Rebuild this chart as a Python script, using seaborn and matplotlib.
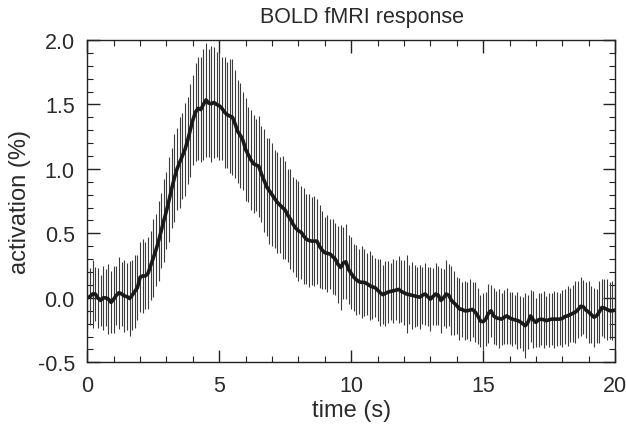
import numpy as np
import pandas as pd
import matplotlib
matplotlib.use("Agg")
import matplotlib.pyplot as plt
import seaborn as sns
from matplotlib.ticker import MultipleLocator

# time axis: one sample every 0.1 s, 0 .. 20 s
time_s = np.round(np.arange(0, 201) * 0.1, 1)

# mean activation (%)
activation = [
    0.00, 0.01, 0.03, 0.03, 0.00, -0.02, 0.00, 0.00, -0.01, -0.035,
    -0.01, 0.02, 0.04, 0.03, 0.015, 0.01, -0.005, 0.02, 0.05, 0.08,
    0.16, 0.17, 0.17, 0.19, 0.25, 0.31, 0.37, 0.44, 0.52, 0.60,
    0.675, 0.76, 0.85, 0.93, 1.00, 1.05, 1.10, 1.15, 1.22, 1.30,
    1.38, 1.44, 1.47, 1.46, 1.50, 1.535, 1.51, 1.505, 1.515, 1.50,
    1.49, 1.47, 1.44, 1.42, 1.41, 1.40, 1.35, 1.29, 1.26, 1.22,
    1.15, 1.11, 1.07, 1.04, 1.03, 1.02, 0.96, 0.91, 0.86, 0.83,
    0.80, 0.77, 0.74, 0.72, 0.70, 0.68, 0.64, 0.61, 0.57, 0.54,
    0.52, 0.51, 0.48, 0.455, 0.445, 0.44, 0.44, 0.44, 0.40, 0.37,
    0.35, 0.345, 0.34, 0.32, 0.30, 0.26, 0.236, 0.27, 0.28, 0.22,
    0.19, 0.16, 0.14, 0.125, 0.12, 0.12, 0.11, 0.095, 0.085, 0.08,
    0.06, 0.04, 0.025, 0.035, 0.045, 0.05, 0.055, 0.06, 0.065, 0.05,
    0.04, 0.03, 0.025, 0.02, 0.015, 0.01, 0.005, 0.02, 0.03, 0.01,
    -0.01, 0.01, 0.03, 0.02, -0.02, 0.00, 0.03, 0.02, -0.02, -0.04,
    -0.06, -0.085, -0.09, -0.10, -0.10, -0.095, -0.09, -0.11, -0.14, -0.18,
    -0.185, -0.165, -0.12, -0.10, -0.14, -0.155, -0.16, -0.165, -0.15, -0.14,
    -0.155, -0.165, -0.17, -0.175, -0.185, -0.20, -0.216, -0.19, -0.14, -0.17,
    -0.19, -0.17, -0.165, -0.17, -0.177, -0.17, -0.165, -0.165, -0.165, -0.165,
    -0.16, -0.145, -0.14, -0.13, -0.12, -0.11, -0.09, -0.065, -0.07, -0.095,
    -0.11, -0.13, -0.15, -0.14, -0.11, -0.075, -0.08, -0.09, -0.10, -0.10,
    -0.095,
]

# half-length of each error bar
error = [
    0.24, 0.22, 0.26, 0.21, 0.23, 0.20, 0.25, 0.22, 0.27, 0.24,
    0.26, 0.23, 0.28, 0.25, 0.28, 0.26, 0.29, 0.27, 0.28, 0.25,
    0.27, 0.29, 0.26, 0.28, 0.27, 0.30, 0.28, 0.31, 0.29, 0.32,
    0.30, 0.33, 0.31, 0.34, 0.32, 0.35, 0.33, 0.36, 0.34, 0.36,
    0.35, 0.38, 0.40, 0.41, 0.43, 0.44, 0.42, 0.45, 0.43, 0.41,
    0.42, 0.40, 0.43, 0.41, 0.44, 0.45, 0.42, 0.40, 0.41, 0.38,
    0.40, 0.37, 0.39, 0.38, 0.36, 0.39, 0.37, 0.40, 0.38, 0.41,
    0.40, 0.38, 0.39, 0.37, 0.40, 0.38, 0.36, 0.39, 0.37, 0.38,
    0.39, 0.36, 0.37, 0.35, 0.36, 0.34, 0.35, 0.33, 0.32, 0.30,
    0.28, 0.30, 0.27, 0.29, 0.28, 0.30, 0.33, 0.28, 0.29, 0.27,
    0.28, 0.26, 0.27, 0.25, 0.28, 0.26, 0.24, 0.27, 0.25, 0.23,
    0.24, 0.26, 0.23, 0.25, 0.24, 0.22, 0.25, 0.23, 0.26, 0.24,
    0.25, 0.30, 0.23, 0.26, 0.24, 0.23, 0.25, 0.22, 0.24, 0.23,
    0.25, 0.22, 0.24, 0.23, 0.25, 0.22, 0.26, 0.24, 0.27, 0.25,
    0.22, 0.24, 0.21, 0.23, 0.22, 0.24, 0.21, 0.23, 0.22, 0.20,
    0.22, 0.21, 0.23, 0.20, 0.22, 0.21, 0.23, 0.20, 0.21, 0.22,
    0.20, 0.21, 0.19, 0.22, 0.20, 0.21, 0.25, 0.21, 0.20, 0.22,
    0.19, 0.21, 0.20, 0.22, 0.19, 0.21, 0.20, 0.22, 0.21, 0.20,
    0.22, 0.21, 0.23, 0.21, 0.22, 0.24, 0.22, 0.23, 0.21, 0.22,
    0.24, 0.22, 0.23, 0.21, 0.24, 0.22, 0.23, 0.24, 0.22, 0.23,
    0.22,
]

df = pd.DataFrame({"time": time_s, "activation": activation, "err": error})

sns.set_style("ticks")
plt.rcParams["font.family"] = ["Liberation Sans", "DejaVu Sans"]

fig = plt.figure(figsize=(6.26, 4.31), dpi=100)
ax = fig.add_axes([0.1395, 0.157, 0.843, 0.748])

ax.errorbar(df["time"], df["activation"], yerr=df["err"], fmt="none",
            ecolor="#3a3a3a", elinewidth=0.8, capsize=0)
sns.lineplot(data=df, x="time", y="activation", ax=ax, color="#1a1a1a",
             linewidth=2.6, errorbar=None)

ax.set_xlim(0, 20)
ax.set_ylim(-0.5, 2.0)
ax.xaxis.set_minor_locator(MultipleLocator(1))
ax.yaxis.set_minor_locator(MultipleLocator(0.1))
ax.set_xticks([0, 5, 10, 15, 20])
ax.set_xticklabels(["0", "5", "10", "15", "20"])
ax.set_yticks([-0.5, 0.0, 0.5, 1.0, 1.5, 2.0])
ax.set_yticklabels(["-0.5", "0.0", "0.5", "1.0", "1.5", "2.0"])
ax.tick_params(which="both", direction="in", top=True, right=True,
               colors="#222222", labelcolor="#2a2a2a", labelsize=15.5)
ax.tick_params(which="major", length=9, width=1.0, pad=9)
ax.tick_params(which="minor", length=4.5, width=0.8)
for s in ax.spines.values():
    s.set_linewidth(1.0)
    s.set_color("#222222")

ax.set_title("BOLD fMRI response", fontsize=15.5, color="#2a2a2a", pad=13, x=0.52)
ax.set_xlabel("time (s)", fontsize=17, color="#2a2a2a", labelpad=2)
ax.set_ylabel("activation (%)", fontsize=17, color="#2a2a2a", labelpad=5)

fig.savefig("out.png", dpi=100)
